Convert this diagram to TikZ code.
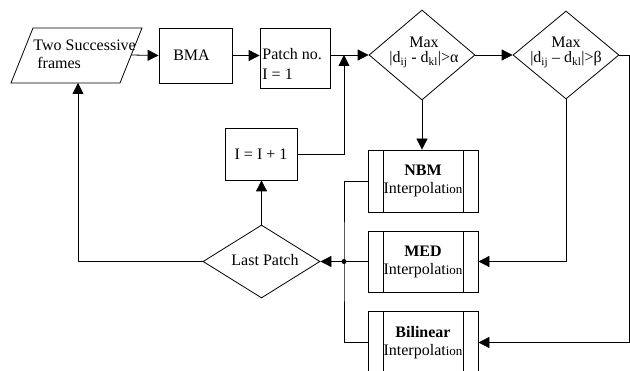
\documentclass[tikz,border=0pt]{standalone}
\usepackage{fontspec}
\setmainfont{Liberation Serif}
\usetikzlibrary{shapes.geometric,arrows.meta}
\begin{document}
\begin{tikzpicture}[x=1pt,y=-1pt,
  font=\fontsize{16}{18}\selectfont,
  line width=0.8pt,
  arr/.style={-{Triangle[length=11pt,width=11pt]}},
  boxn/.style={draw, inner sep=0pt, minimum width=#1},
  dia/.style={draw, diamond, inner sep=0pt},
  proc/.style={draw, inner sep=0pt, minimum width=110pt, minimum height=62pt, align=center,
    path picture={
      \draw ([xshift=15pt]path picture bounding box.north west) -- ([xshift=15pt]path picture bounding box.south west);
      \draw ([xshift=-15pt]path picture bounding box.north east) -- ([xshift=-15pt]path picture bounding box.south east);
    }},
  txt/.style={inner sep=0pt, align=left}
]
\useasboundingbox (0,0) rectangle (630,371);
\clip (0,0) rectangle (630,371);
\newcommand{\ionsmall}{{\fontsize{13}{15}\selectfont ion}}

% parallelogram
\draw (33,28) -- (142,28) -- (120,83) -- (11,83) -- cycle;
\node[txt, anchor=west] (part) at (33,54) {Two Successive\\\hspace*{4pt}frames};
\coordinate (parR) at (131,55);
\coordinate (parB) at (78,83);

\node[boxn=73pt, minimum height=55pt] (bma) at (195.5,55.5) {\hspace*{-8pt}BMA};
\node[boxn=70pt, minimum height=60pt] (patch) at (295,58) {};
\node[txt, anchor=west] (patcht) at (262,63.5) {Patch no.\\[2pt]I = 1};
\node[boxn=72pt, minimum height=52pt] (inc) at (261,154) {I = I + 1};

\node[dia, minimum width=106pt, minimum height=90pt] (d1) at (422,55) {};
\node[txt, align=center] (d1t) at (424,52.5) {Max\\[-3pt]|d\textsubscript{ij} - d\textsubscript{kl}|>α};
\node[dia, minimum width=106pt, minimum height=88pt] (d2) at (566,55) {};
\node[txt, align=center] (d2t) at (566,52.5) {Max\\[-3pt]|d\textsubscript{ij} – d\textsubscript{kl}|>β};

\node[dia, minimum width=117pt, minimum height=73pt] (last) at (261.5,261.5) {};
\node[txt] (lastt) at (265,260) {Last Patch};

\node[proc] (nbm) at (423,181) {\textbf{NBM}\\Interpolat\ionsmall};
\node[proc, minimum height=61pt] (med) at (423,261.5) {\textbf{MED}\\Interpolat\ionsmall};
\node[proc] (bil) at (423,342.5) {\textbf{Bilinear}\\Interpolat\ionsmall};

% connectors
\draw[arr] (parR) -- (bma.west);
\draw[arr] (bma.east) -- (bma.east -| patch.west);
\draw[arr] (patch.east |- d1.west) -- (d1.west);
\coordinate (j1) at (344,55);
\draw[arr] (inc.east) -| (j1);
\draw[arr] (d1.east) -- (d2.west);
\coordinate (rc) at (629,55);
\draw[arr] (d2.east) -- (rc) |- (bil.east);
\draw[arr] (d2.south) |- (med.east);
\draw[arr] (d1.south) -- (d1.south |- nbm.north);

\coordinate (dot) at (344,261.5);
\draw (nbm.west) -| (dot) |- (bil.west);
\draw (med.west) -- (dot);
\fill (dot) circle (2.5pt);
\draw[arr] (dot) -- (last.east);
\draw[arr] (last.north) -- (last.north |- inc.south);
\draw[arr] (last.west) -| (parB);
\end{tikzpicture}
\end{document}
